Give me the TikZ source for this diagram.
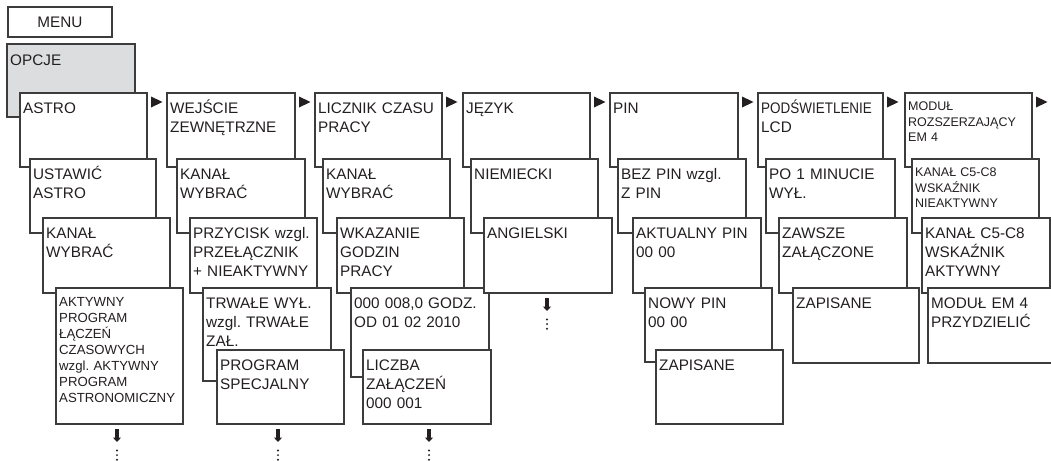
\documentclass[tikz,border=0pt]{standalone}
\usepackage{fontspec}
\setmainfont{Liberation Sans}
\usepackage{graphicx}
\usetikzlibrary{arrows.meta}
\definecolor{mn-line}{HTML}{3C3C3C}
\definecolor{mn-text}{HTML}{231F20}
\definecolor{mn-gray}{HTML}{DCDDDE}
\frenchspacing

\begin{document}
\begin{tikzpicture}[x=1pt, y=-1pt,
    mbox/.style={draw=mn-line, line width=1.1pt, fill=white, anchor=north west, inner sep=0pt, outer sep=0pt},
    mtxt/.style={anchor=base west, inner sep=0pt, text width=150pt, align=left, text=mn-text, font=\fontsize{15.3}{19.2}\selectfont},
    mtxtmid/.style={mtxt, font=\fontsize{13.2}{16}\selectfont},
    mtxtsmall/.style={mtxt, font=\fontsize{12.5}{15.6}\selectfont},
    nexttip/.style={fill=mn-text},
    downarrow/.style={draw=mn-text, line width=3.6pt, -{Triangle[length=4.5pt, width=8pt]}}]
    \useasboundingbox (0,0) rectangle (1051,460);
    \clip (0,0) rectangle (1051,460);

    % Menu and options
    \node[mbox, minimum width=104pt, minimum height=30pt, text=mn-text, font=\fontsize{15.3}{19.2}\selectfont] (menu) at (8,7) {MENU};
    \node[mbox, fill=mn-gray, minimum width=128pt, minimum height=73pt] (opcje) at (7,44) {};
    \node[mtxt] (opcje-t) at ([shift={(3,21)}]opcje.north west) {OPCJE};

    % Astro
    \node[mbox, minimum width=127pt, minimum height=74pt] (astro) at (20,93) {};
    \node[mtxt] (astro-t) at ([shift={(3,20)}]astro.north west) {ASTRO};
    \node[mbox, minimum width=126pt, minimum height=74pt] (ustawic) at (30,159) {};
    \node[mtxt] (ustawic-t) at ([shift={(3,20)}]ustawic.north west) {USTAWIĆ\\ASTRO};
    \node[mbox, minimum width=127pt, minimum height=75pt] (wybierz1) at (43,218) {};
    \node[mtxt] (wybierz1-t) at ([shift={(3,20)}]wybierz1.north west) {KANAŁ\\WYBRAĆ};
    \node[mbox, minimum width=127pt, minimum height=136pt] (aktywny) at (56,288) {};
    \node[mtxtmid] (aktywny-t) at ([shift={(3,18.7)}]aktywny.north west) {AKTYWNY\\PROGRAM\\ŁĄCZEŃ\\CZASOWYCH\\wzgl. AKTYWNY\\PROGRAM\\ASTRONOMICZNY};

    % External input
    \node[mbox, minimum width=128pt, minimum height=74pt] (wejscie) at (167,93) {};
    \node[mtxt] (wejscie-t) at ([shift={(3,20)}]wejscie.north west) {WEJŚCIE\\ZEWNĘTRZNE};
    \node[mbox, minimum width=128pt, minimum height=74pt] (wybierz2) at (177,159) {};
    \node[mtxt] (wybierz2-t) at ([shift={(3,20)}]wybierz2.north west) {KANAŁ\\WYBRAĆ};
    \node[mbox, minimum width=127pt, minimum height=75pt] (przycisk) at (190,218) {};
    \node[mtxt] (przycisk-t) at ([shift={(3,20)}]przycisk.north west) {PRZYCISK wzgl.\\PRZEŁĄCZNIK\\+ NIEAKTYWNY};
    \node[mbox, minimum width=128pt, minimum height=93pt] (trwale) at (203,288) {};
    \node[mtxt] (trwale-t) at ([shift={(3,20)}]trwale.north west) {TRWAŁE WYŁ.\\wzgl. TRWAŁE\\ZAŁ.};
    \node[mbox, minimum width=127pt, minimum height=74pt] (specjalny) at (217,350) {};
    \node[mtxt] (specjalny-t) at ([shift={(3,20)}]specjalny.north west) {PROGRAM\\SPECJALNY};

    % Operating hours
    \node[mbox, minimum width=127pt, minimum height=74pt] (licznik) at (315,93) {};
    \node[mtxt] (licznik-t) at ([shift={(3,20)}]licznik.north west) {LICZNIK CZASU\\PRACY};
    \node[mbox, minimum width=127pt, minimum height=74pt] (wybierz3) at (323,159) {};
    \node[mtxt] (wybierz3-t) at ([shift={(3,20)}]wybierz3.north west) {KANAŁ\\WYBRAĆ};
    \node[mbox, minimum width=127pt, minimum height=75pt] (wskazanie) at (337,218) {};
    \node[mtxt] (wskazanie-t) at ([shift={(3,20)}]wskazanie.north west) {WKAZANIE\\GODZIN\\PRACY};
    \node[mbox, minimum width=138pt, minimum height=89pt] (godziny) at (351,288) {};
    \node[mtxt] (godziny-t) at ([shift={(3,20)}]godziny.north west) {000 008,0 GODZ.\\OD 01 02 2010};
    \node[mbox, minimum width=128pt, minimum height=74pt] (liczba) at (363,350) {};
    \node[mtxt] (liczba-t) at ([shift={(3,20)}]liczba.north west) {LICZBA\\ZAŁĄCZEŃ\\000 001};

    % Language
    \node[mbox, minimum width=127pt, minimum height=74pt] (jezyk) at (463,93) {};
    \node[mtxt] (jezyk-t) at ([shift={(3,20)}]jezyk.north west) {JĘZYK};
    \node[mbox, minimum width=127pt, minimum height=74pt] (niemiecki) at (471,159) {};
    \node[mtxt] (niemiecki-t) at ([shift={(3,20)}]niemiecki.north west) {NIEMIECKI};
    \node[mbox, minimum width=128pt, minimum height=75pt] (angielski) at (484,218) {};
    \node[mtxt] (angielski-t) at ([shift={(3,20)}]angielski.north west) {ANGIELSKI};

    % PIN
    \node[mbox, minimum width=128pt, minimum height=74pt] (pin) at (610,93) {};
    \node[mtxt] (pin-t) at ([shift={(3,20)}]pin.north west) {PIN};
    \node[mbox, minimum width=128pt, minimum height=74pt] (bezpin) at (618,159) {};
    \node[mtxt] (bezpin-t) at ([shift={(3,20)}]bezpin.north west) {BEZ PIN wzgl.\\Z PIN};
    \node[mbox, minimum width=128pt, minimum height=75pt] (aktualny) at (633,218) {};
    \node[mtxt] (aktualny-t) at ([shift={(3,20)}]aktualny.north west) {AKTUALNY PIN\\00 00};
    \node[mbox, minimum width=127pt, minimum height=74pt] (nowypin) at (645,288) {};
    \node[mtxt] (nowypin-t) at ([shift={(3,20)}]nowypin.north west) {NOWY PIN\\00 00};
    \node[mbox, minimum width=127pt, minimum height=74pt] (zapisane) at (656,350) {};
    \node[mtxt] (zapisane-t) at ([shift={(3,20)}]zapisane.north west) {ZAPISANE};

    % Backlight
    \node[mbox, minimum width=125pt, minimum height=74pt] (podswietl) at (758,93) {};
    \node[mtxt] (podswietl-t) at ([shift={(3,20)}]podswietl.north west) {\scalebox{0.88}[1]{PODŚWIETLENIE}\\LCD};
    \node[mbox, minimum width=129pt, minimum height=74pt] (minuta) at (766,159) {};
    \node[mtxt] (minuta-t) at ([shift={(3,20)}]minuta.north west) {PO 1 MINUCIE\\WYŁ.};
    \node[mbox, minimum width=128pt, minimum height=75pt] (zawsze) at (779,218) {};
    \node[mtxt] (zawsze-t) at ([shift={(3,20)}]zawsze.north west) {ZAWSZE\\ZAŁĄCZONE};
    \node[mbox, minimum width=126pt, minimum height=75pt] (zapisane2) at (793,288) {};
    \node[mtxt] (zapisane2-t) at ([shift={(3,20)}]zapisane2.north west) {ZAPISANE};

    % Extension module
    \node[mbox, minimum width=127pt, minimum height=74pt] (modul) at (905,93) {};
    \node[mtxtsmall] (modul-t) at ([shift={(3,17.7)}]modul.north west) {MODUŁ\\ROZSZERZAJĄCY\\EM 4};
    \node[mbox, minimum width=127pt, minimum height=74pt] (nieakt) at (912,159) {};
    \node[mtxtsmall] (nieakt-t) at ([shift={(3,17.7)}]nieakt.north west) {KANAŁ C5-C8\\WSKAŹNIK\\NIEAKTYWNY};
    \node[mbox, minimum width=128pt, minimum height=75pt] (akt) at (922,218) {};
    \node[mtxt] (akt-t) at ([shift={(3,20)}]akt.north west) {KANAŁ C5-C8\\WSKAŹNIK\\AKTYWNY};
    \node[mbox, minimum width=132pt, minimum height=75pt] (przydziel) at (928,288) {};
    \node[mtxt] (przydziel-t) at ([shift={(3,20)}]przydziel.north west) {MODUŁ EM 4\\PRZYDZIELIĆ};

    % Next-item marks
    \foreach \b in {astro,wejscie,licznik,jezyk,pin,podswietl,modul}
        \fill[nexttip] ([shift={(4,3.5)}]\b.north east) -- ++(0,11) -- ++(11.5,-5.5) -- cycle;

    % Continuation arrows
    \coordinate (c1) at ([shift={(61,5)}]aktywny.south west);
    \coordinate (c1e) at ([shift={(61,18)}]aktywny.south west);
    \coordinate (c2) at ([shift={(61,5)}]specjalny.south west);
    \coordinate (c2e) at ([shift={(61,18)}]specjalny.south west);
    \coordinate (c3) at ([shift={(66,5)}]liczba.south west);
    \coordinate (c3e) at ([shift={(66,18)}]liczba.south west);
    \coordinate (c4) at ([shift={(63,5)}]angielski.south west);
    \coordinate (c4e) at ([shift={(63,18)}]angielski.south west);
    \foreach \c in {1,2,3,4} {
        \draw[downarrow] (c\c) -- (c\c e);
        \foreach \k in {0,1,2}
            \fill[mn-text] ([shift={(0,8.5+4.6*\k)}]c\c e) circle (1.1pt);
    }
\end{tikzpicture}
\end{document}
